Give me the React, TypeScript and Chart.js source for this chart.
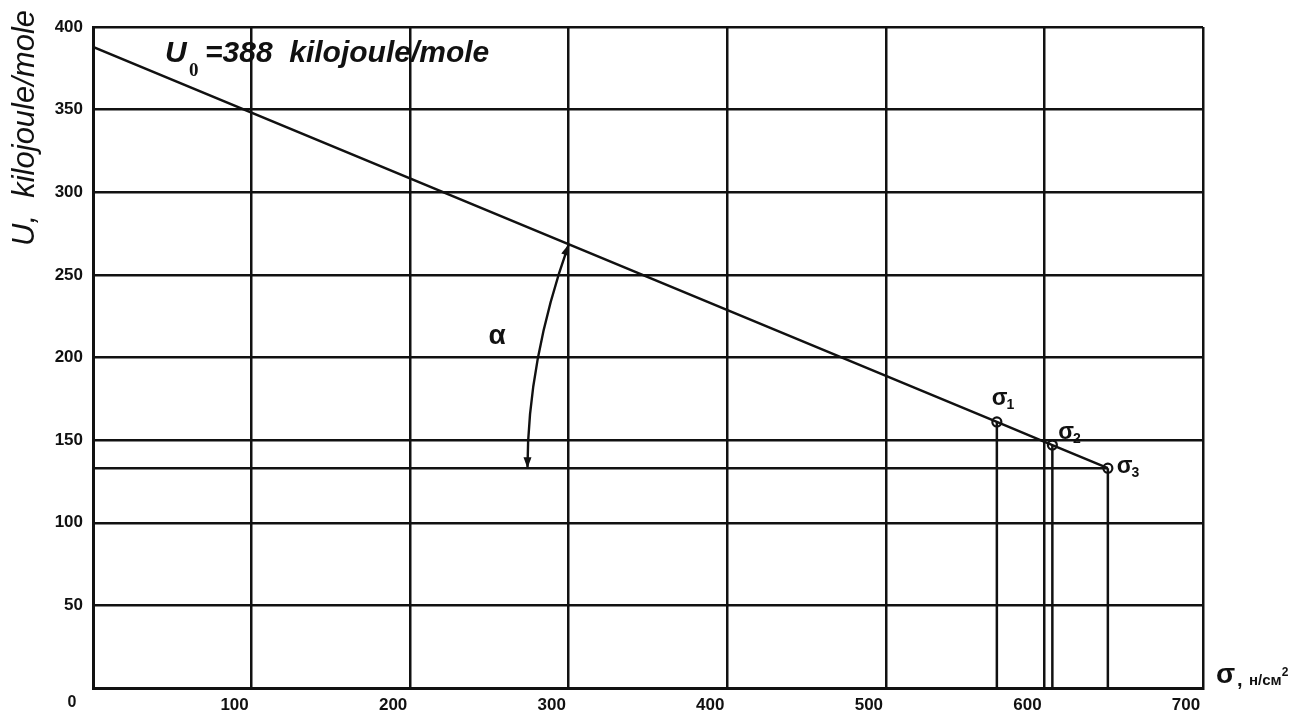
import { useEffect, useRef } from "react";
import { Chart, registerables } from "chart.js";

Chart.register(...registerables);

// Activation energy U versus stress σ
const u0 = 388;
const sigmaLabels = ["1", "2", "3"];
const sigmaValues = [570, 605, 640];
const energyValues = [161, 147, 133];

// Axis ticks
const xTickValues = [0, 100, 200, 300, 400, 500, 600, 700];
const yTickValues = [0, 50, 100, 150, 200, 250, 300, 350, 400];

// Angle arc α: from the line at σ = 300 down to the σ3 level
const arcStartSigma = 300;
const arcEndSigma = 274;
const arcControl = { x: 274, y: 198 };

const INK = "#111";
const FONT = "'Liberation Sans', Arial, sans-serif";

function drawSigma(ctx: CanvasRenderingContext2D, x: number, y: number, sub: string, size: number) {
  ctx.font = `bold ${size}px ${FONT}`;
  ctx.textAlign = "left";
  ctx.textBaseline = "alphabetic";
  ctx.fillText("σ", x, y);
  const w = ctx.measureText("σ").width;
  ctx.font = `bold ${Math.round(size * 0.6)}px ${FONT}`;
  ctx.fillText(sub, x + w - 1, y + 4);
}

function arrowHead(ctx: CanvasRenderingContext2D, tipX: number, tipY: number, fromX: number, fromY: number) {
  const ang = Math.atan2(tipY - fromY, tipX - fromX);
  const len = 11;
  const half = 4;
  ctx.beginPath();
  ctx.moveTo(tipX, tipY);
  ctx.lineTo(tipX - len * Math.cos(ang) + half * Math.sin(ang), tipY - len * Math.sin(ang) - half * Math.cos(ang));
  ctx.lineTo(tipX - len * Math.cos(ang) - half * Math.sin(ang), tipY - len * Math.sin(ang) + half * Math.cos(ang));
  ctx.closePath();
  ctx.fill();
}

const annotations = {
  id: "annotations",
  afterDatasetsDraw(chart: any) {
    const { ctx } = chart;
    const xs = chart.scales.x;
    const ys = chart.scales.y;
    const slope = (u0 - energyValues[energyValues.length - 1]) / sigmaValues[sigmaValues.length - 1];
    ctx.save();
    ctx.fillStyle = INK;
    ctx.strokeStyle = INK;

    // title inside the plot
    ctx.font = `italic bold 30px ${FONT}`;
    ctx.textAlign = "left";
    ctx.textBaseline = "alphabetic";
    ctx.fillText("U", 165, 62);
    ctx.font = `bold 19px 'Liberation Serif', serif`;
    ctx.fillText("0", 189, 76);
    ctx.font = `italic bold 30px ${FONT}`;
    ctx.fillText("=388  kilojoule/mole", 205, 62);

    // y-axis title
    ctx.save();
    ctx.translate(34, 246);
    ctx.rotate(-Math.PI / 2);
    ctx.font = `italic 31px ${FONT}`;
    ctx.textBaseline = "alphabetic";
    ctx.fillText("U,  kilojoule/mole", 0, 0);
    ctx.restore();

    // x-axis title
    ctx.font = `bold 28px ${FONT}`;
    ctx.fillText("σ", 1216, 683);
    ctx.font = `bold 20px ${FONT}`;
    ctx.fillText(",", 1237, 686);
    ctx.font = `bold 15px ${FONT}`;
    ctx.fillText("н/см", 1249, 685);
    const unitW = ctx.measureText("н/см").width;
    ctx.font = `bold 12px ${FONT}`;
    ctx.fillText("2", 1249 + unitW, 676);

    // origin label
    ctx.font = `bold 16px ${FONT}`;
    ctx.textAlign = "center";
    ctx.textBaseline = "middle";
    ctx.fillText("0", 72, 703);

    // σ labels by the points
    const offsets = [
      { dx: -5, dy: -17 },
      { dx: 6, dy: -6 },
      { dx: 9, dy: 5 },
    ];
    sigmaValues.forEach((s, i) => {
      const px = xs.getPixelForValue(s);
      const py = ys.getPixelForValue(energyValues[i]);
      drawSigma(ctx, px + offsets[i].dx, py + offsets[i].dy, sigmaLabels[i], 23);
    });

    // angle arc with arrows at both ends
    const p0 = { x: xs.getPixelForValue(arcStartSigma), y: ys.getPixelForValue(u0 - slope * arcStartSigma) };
    const c = { x: xs.getPixelForValue(arcControl.x), y: ys.getPixelForValue(arcControl.y) };
    const p2 = { x: xs.getPixelForValue(arcEndSigma), y: ys.getPixelForValue(energyValues[2]) };
    ctx.lineWidth = 2.4;
    ctx.beginPath();
    ctx.moveTo(p0.x, p0.y);
    ctx.quadraticCurveTo(c.x, c.y, p2.x, p2.y);
    ctx.stroke();
    arrowHead(ctx, p0.x, p0.y, c.x, c.y);
    arrowHead(ctx, p2.x, p2.y, c.x, c.y);

    ctx.font = `bold 28px ${FONT}`;
    ctx.textAlign = "center";
    ctx.textBaseline = "middle";
    ctx.fillText("α", 497, 336);

    ctx.restore();
  },
};

export default function App() {
  const ref = useRef<HTMLCanvasElement | null>(null);

  useEffect(() => {
    if (!ref.current) return;
    const lastSigma = sigmaValues[sigmaValues.length - 1];
    const lastU = energyValues[energyValues.length - 1];

    const lineData = [{ x: 0, y: u0 }, ...sigmaValues.map((s, i) => ({ x: s, y: energyValues[i] }))];
    const dropLines = sigmaValues.map((s, i) => ({
      data: [
        { x: s, y: 0 },
        { x: s, y: energyValues[i] },
      ],
      showLine: true,
      borderColor: INK,
      borderWidth: 2.5,
      pointRadius: 0,
    }));

    const chart = new Chart(ref.current, {
      type: "scatter",
      data: {
        datasets: [
          {
            data: lineData,
            showLine: true,
            borderColor: INK,
            borderWidth: 2.5,
            pointRadius: 0,
          },
          {
            data: [
              { x: 0, y: lastU },
              { x: lastSigma, y: lastU },
            ],
            showLine: true,
            borderColor: INK,
            borderWidth: 2.5,
            pointRadius: 0,
          },
          ...dropLines,
          {
            data: sigmaValues.map((s, i) => ({ x: s, y: energyValues[i] })),
            showLine: false,
            pointRadius: 4.5,
            pointBorderWidth: 2.2,
            pointBorderColor: INK,
            pointBackgroundColor: "#fff",
          },
        ] as any,
      },
      options: {
        responsive: false,
        animation: false,
        layout: { padding: { left: 0, top: 27, right: 96, bottom: 0 } },
        plugins: {
          legend: { display: false },
          tooltip: { enabled: false },
        },
        scales: {
          x: {
            type: "linear",
            min: xTickValues[0],
            max: xTickValues[xTickValues.length - 1],
            afterBuildTicks: (scale: any) => {
              scale.ticks = xTickValues.map((v) => ({ value: v }));
            },
            afterFit: (scale: any) => {
              scale.height = 27;
            },
            ticks: {
              autoSkip: false,
              maxRotation: 0,
              padding: 7,
              labelOffset: -17,
              color: INK,
              font: { family: FONT, size: 17, weight: "bold" },
              callback: (v: any) => (v === 0 ? "" : String(v)),
            },
            grid: { color: INK, lineWidth: 2.5, drawTicks: false },
            border: { display: true, color: INK, width: 3 },
          },
          y: {
            type: "linear",
            min: yTickValues[0],
            max: yTickValues[yTickValues.length - 1],
            afterBuildTicks: (scale: any) => {
              scale.ticks = yTickValues.map((v) => ({ value: v }));
            },
            afterFit: (scale: any) => {
              scale.width = 93;
            },
            ticks: {
              autoSkip: false,
              padding: 10,
              color: INK,
              font: { family: FONT, size: 17, weight: "bold" },
              callback: (v: any) => (v === 0 ? "" : String(v)),
            },
            grid: { color: INK, lineWidth: 2.5, drawTicks: false },
            border: { display: true, color: INK, width: 3 },
          },
        },
      },
      plugins: [annotations],
    });
    return () => chart.destroy();
  }, []);

  return (
    <div style={{ position: "absolute", left: 0, top: 0, width: 1299, height: 715, background: "#fff" }}>
      <canvas ref={ref} width={1299} height={715} />
    </div>
  );
}
